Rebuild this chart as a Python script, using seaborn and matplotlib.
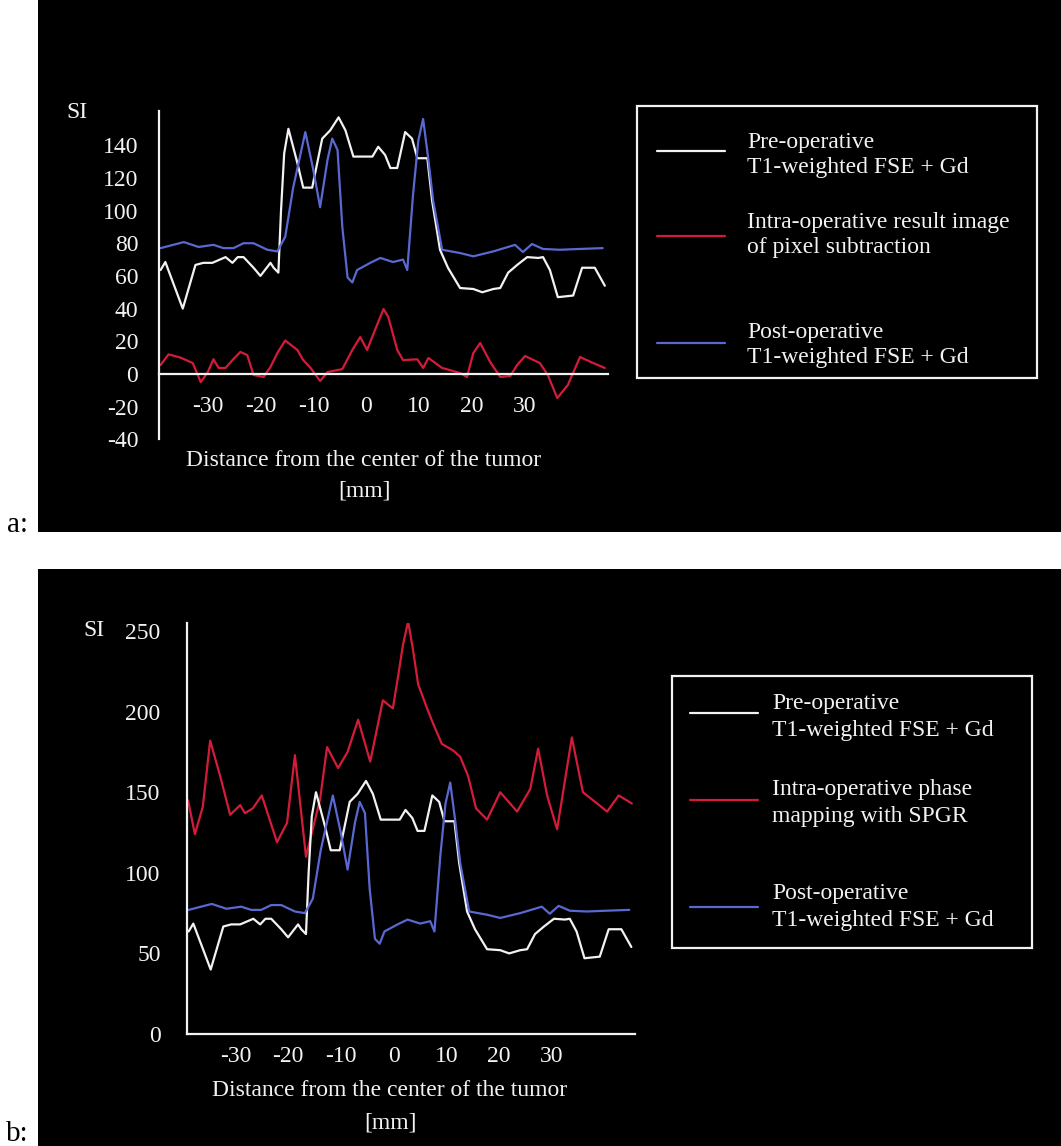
import numpy as np
import pandas as pd
import matplotlib
matplotlib.use("Agg")
import matplotlib.pyplot as plt
import seaborn as sns
from matplotlib.lines import Line2D
from matplotlib.patches import Rectangle
from matplotlib.transforms import ScaledTranslation

sns.set_theme(style="dark")
plt.rcParams['font.family'] = ['Liberation Serif', 'DejaVu Serif']

# ---------------- data ----------------
pre_mm = [-39.7, -38.8, -35.5, -33.1, -31.6, -29.9, -27.4, -26.1, -25.1, -24.0, -22.1, -20.8,
          -18.9, -18.3, -17.4, -16.9, -16.3, -15.5, -13.8, -12.7, -11.0, -9.1, -7.6, -6.0,
          -4.7, -3.2, -1.9, 0.4, 1.5, 2.8, 3.8, 5.1, 6.6, 7.9, 8.9, 10.8, 11.7, 13.2, 14.7,
          17.0, 19.5, 21.2, 23.3, 24.6, 26.1, 27.8, 29.7, 31.8, 32.7, 34.0, 35.5, 38.4,
          40.1, 42.5, 44.4]
pre_si = [63.6, 68.5, 40, 66.7, 68, 68, 71.5, 68, 71.5, 71.5, 65, 60,
          68, 65, 62, 100, 135, 150, 129, 114, 114, 144, 149, 157,
          149, 133, 133, 133, 139, 134, 126, 126, 148, 144, 132, 132, 106, 76, 65,
          52.6, 52, 50, 52, 52.6, 62, 66.7, 71.5, 71, 71.5, 63.6, 47, 48,
          65, 65, 54]

post_mm = [-39.7, -35.3, -32.5, -29.7, -27.8, -25.9, -24.0, -22.1, -19.5, -17.6, -16.1,
           -14.6, -12.3, -10.8, -9.5, -8.1, -7.2, -6.2, -5.3, -4.3, -3.4, -2.5, 0.0, 1.9,
           4.3, 6.2, 7.0, 8.1, 9.1, 10.0, 11.0, 11.9, 13.6, 17.0, 19.5, 23.3, 27.4, 28.9,
           30.6, 32.7, 35.9, 39.7, 44.0]
post_si = [77, 80.7, 77.7, 79, 77, 77, 80, 80, 76, 75, 84,
           114, 148, 125, 102, 131, 144, 137, 90, 59, 56, 63.6, 68, 71,
           68.5, 70, 63.6, 110, 143, 156, 131, 106, 76, 74, 72, 75, 79, 74.6,
           79.5, 76.5, 76, 76.5, 77]

sub_mm = [-39.7, -38.2, -35.9, -33.6, -32.1, -30.8, -29.7, -28.7, -27.4, -26.1, -24.6,
          -23.3, -22.1, -20.2, -18.9, -17.6, -16.1, -13.8, -12.7, -11.3, -9.5, -8.1,
          -5.3, -3.4, -1.9, -0.6, 0.9, 2.5, 3.4, 5.1, 6.2, 8.9, 10.0, 11.0, 13.6, 17.0,
          18.3, 19.5, 20.8, 22.7, 24.6, 26.5, 27.8, 29.3, 32.1, 33.6, 35.4, 37.4, 39.7,
          42.2, 44.4]
sub_si = [5.5, 12, 10, 6.7, -5, 1, 9, 3.7, 3.7, 8.5, 13.5,
          11.6, -0.6, -1.8, 4.3, 12.8, 20.5, 14.7, 8.5, 3.7, -4.3, 1.2,
          3, 14.7, 22.6, 14.7, 27, 39.7, 35, 14.7, 8.5, 9, 3.7, 9.8, 3.7, 0.6,
          -1.8, 12.8, 19, 7.3, -1.8, -1.2, 5.5, 11, 6.7, -0.6, -14.7, -6.7, 10.4,
          6.7, 3.7]

phase_mm = [-39.8, -38.5, -37.0, -35.6, -33.7, -31.8, -29.9, -29.0, -27.5, -25.8, -22.9,
            -21.0, -19.5, -17.4, -14.7, -13.4, -11.3, -9.5, -7.5, -5.2, -2.8, -0.9, 0.1,
            1.0, 2.0, 2.9, 3.9, 5.6, 6.7, 8.4, 10.5, 11.9, 13.4, 14.9, 17.0, 19.5, 22.7,
            25.2, 26.7, 28.4, 30.3, 33.1, 35.2, 37.9, 39.8, 42.0, 44.5]
phase_si = [145, 124, 141, 182, 160, 136, 142, 137, 140, 148, 119,
            131, 173, 110, 146, 178, 165, 175, 195, 169, 207, 202, 222,
            241, 256, 239, 217, 202, 193, 180, 176, 172, 160, 140, 133, 150, 138,
            152, 177, 148, 127, 184, 150, 143, 138, 148, 143]

legend_a = ["Pre-operative\nT1-weighted FSE + Gd",
            "Intra-operative result image\nof pixel subtraction",
            "Post-operative\nT1-weighted FSE + Gd"]
legend_b = ["Pre-operative\nT1-weighted FSE + Gd",
            "Intra-operative phase\nmapping with SPGR",
            "Post-operative\nT1-weighted FSE + Gd"]
xlabel_text = "Distance from the center of the tumor\n[mm]"

WHITE = "#f2f2f2"
RED = "#d41c3a"
BLUE = "#5a68d2"
FS = 17

W, H = 1061, 1146
fig = plt.figure(figsize=(W / 100, H / 100), dpi=100, facecolor="white")


def fx(px):
    return px / W


def fy(py):
    return 1 - py / H


def black_box(x0, y0, x1, y1):
    fig.add_artist(Rectangle((fx(x0), fy(y1)), fx(x1) - fx(x0), fy(y0) - fy(y1),
                             transform=fig.transFigure, facecolor="black",
                             edgecolor="none", zorder=0))


black_box(38, 0, 1061, 532)
black_box(38, 569, 1061, 1146)


def make_axes(rect, xlim, ylim, yticks, ylabels, ypad, xpad, ax_zero):
    ax = fig.add_axes(rect)
    ax.set_facecolor("none")
    ax.set_xlim(*xlim)
    ax.set_ylim(*ylim)
    for s in ["top", "right"]:
        ax.spines[s].set_visible(False)
    ax.spines["left"].set_color(WHITE)
    ax.spines["bottom"].set_color(WHITE)
    ax.spines["left"].set_linewidth(1.6)
    ax.spines["bottom"].set_linewidth(1.6)
    if ax_zero:
        ax.spines["bottom"].set_position(("data", 0))
    ax.set_yticks(yticks)
    ax.set_yticklabels(ylabels)
    ax.set_xticks([-30, -20, -10, 0, 10, 20, 30])
    ax.set_xticklabels(["-30", "-20", "-10", "0", "10", "20", "30"])
    ax.set_xticks([-35, -25, -15, -5, 5, 15, 25, 35, 40, 45], minor=True)
    ax.tick_params(axis="both", which="both", direction="in", length=6,
                   width=1.6, colors=WHITE, labelsize=FS)
    ax.tick_params(axis="y", pad=ypad)
    ax.tick_params(axis="x", pad=xpad)
    shift = ScaledTranslation(-4 / 100, 0, fig.dpi_scale_trans)
    for lab in ax.get_xticklabels():
        lab.set_transform(lab.get_transform() + shift)
    ax.grid(False)
    ax.set_xlabel("")
    ax.set_ylabel("")
    return ax


def legend_box(x0, y0, x1, y1, line_x0, line_x1, line_ys, text_x, text_ys, labels,
               colors, lsp):
    fig.add_artist(Rectangle((fx(x0), fy(y1)), fx(x1) - fx(x0), fy(y0) - fy(y1),
                             transform=fig.transFigure, facecolor="black",
                             edgecolor=WHITE, linewidth=1.6, zorder=3))
    for ly, ty, lab, c in zip(line_ys, text_ys, labels, colors):
        fig.add_artist(Line2D([fx(line_x0), fx(line_x1)], [fy(ly), fy(ly)],
                              transform=fig.transFigure, color=c, lw=1.6, zorder=4))
        fig.text(fx(text_x), fy(ty), lab, color=WHITE, fontsize=FS, va="center",
                 ha="left", linespacing=lsp, zorder=4)


# ---------------- panel a ----------------
ax_a = make_axes([fx(159), fy(439.4), fx(608) - fx(159), fy(110.8) - fy(439.4)],
                 (-40, 45), (-40, 161),
                 list(range(-40, 161, 20)),
                 [str(v) for v in range(-40, 141, 20)] + [""],
                 15, 16, True)
sns.lineplot(x=pre_mm, y=pre_si, ax=ax_a, color=WHITE, lw=1.6, sort=False, estimator=None)
sns.lineplot(x=post_mm, y=post_si, ax=ax_a, color=BLUE, lw=1.6, sort=False, estimator=None)
sns.lineplot(x=sub_mm, y=sub_si, ax=ax_a, color=RED, lw=1.6, sort=False, estimator=None)
fig.text(fx(77), fy(112), "SI", color=WHITE, fontsize=FS, ha="center", va="center")
fig.text(fx(364), fy(476), xlabel_text, color=WHITE, fontsize=FS, ha="center",
         va="center", linespacing=1.6)
legend_box(637, 106, 1037, 378, 657, 725, [151, 236, 343], 747, [155, 235, 345],
           legend_a, [WHITE, RED, BLUE], 1.3)
fig.text(fx(17), fy(532), "a:", color="black", fontsize=21, ha="center", va="baseline")

# ---------------- panel b ----------------
ax_b = make_axes([fx(187), fy(1034), fx(634.5) - fx(187), fy(623) - fy(1034)],
                 (-40, 45), (0, 255),
                 [0, 50, 100, 150, 200, 250],
                 ["0", "50", "100", "150", "200", "250"],
                 19, 9, False)
sns.lineplot(x=phase_mm, y=phase_si, ax=ax_b, color=RED, lw=1.6, sort=False, estimator=None)
sns.lineplot(x=pre_mm, y=pre_si, ax=ax_b, color=WHITE, lw=1.6, sort=False, estimator=None)
sns.lineplot(x=post_mm, y=post_si, ax=ax_b, color=BLUE, lw=1.6, sort=False, estimator=None)
fig.text(fx(94), fy(630), "SI", color=WHITE, fontsize=FS, ha="center", va="center")
fig.text(fx(390), fy(1107), xlabel_text, color=WHITE, fontsize=FS, ha="center",
         va="center", linespacing=1.7)
legend_box(672, 676, 1032, 948, 690, 758, [713, 800, 907], 772, [717, 803, 907],
           legend_b, [WHITE, RED, BLUE], 1.42)
fig.text(fx(17), fy(1141), "b:", color="black", fontsize=21, ha="center", va="baseline")

fig.savefig("out.png", dpi=100, facecolor="white")
